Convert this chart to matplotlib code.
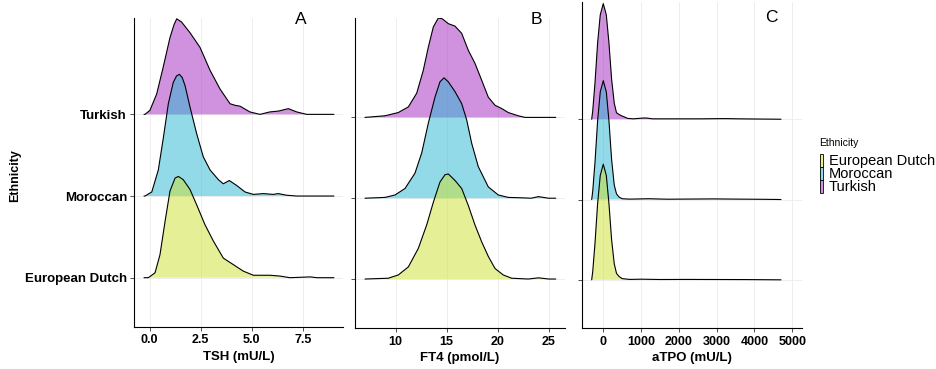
import matplotlib
matplotlib.use("Agg")
import matplotlib.pyplot as plt
from matplotlib.patches import Rectangle
import numpy as np

plt.rcParams['font.family'] = ['Liberation Sans', 'DejaVu Sans']

categories = ["European Dutch", "Moroccan", "Turkish"]
colors = {"European Dutch": "#CDE12D", "Moroccan": "#27B7D3", "Turkish": "#A325C1"}
legend_title = "Ethnicity"

# ---- TSH (mU/L): x positions and ridge heights (row units)
tsh_turkish_x = [-0.27, -0.22, 0.02, 0.35, 0.67, 1.0, 1.2, 1.33, 1.57, 1.98, 2.47, 2.96, 3.45, 3.94, 4.2, 4.43,
                 4.91, 5.40, 5.89, 6.30, 6.79, 7.2, 7.69, 9.02]
tsh_turkish_h = [0, 0, 0.05, 0.25, 0.58, 0.94, 1.10, 1.17, 1.13, 1.0, 0.82, 0.54, 0.31, 0.13, 0.11, 0.10,
                 0.03, 0.0, 0.03, 0.04, 0.07, 0.03, 0.0, 0]
tsh_moroccan_x = [-0.27, -0.22, 0.11, 0.43, 0.68, 0.92, 1.16, 1.32, 1.46, 1.60, 1.74, 1.98, 2.31, 2.63, 2.96, 3.37,
                  3.61, 3.90, 4.26, 4.67, 5.08, 5.57, 6.05, 6.30, 6.7, 7.2, 9.02]
tsh_moroccan_h = [0, 0, 0.05, 0.32, 0.72, 1.13, 1.39, 1.47, 1.49, 1.45, 1.35, 1.09, 0.76, 0.48, 0.32, 0.2,
                  0.15, 0.19, 0.13, 0.05, 0.02, 0.03, 0.02, 0.03, 0.01, 0.0, 0]
tsh_dutch_x = [-0.27, -0.06, 0.27, 0.51, 0.76, 1.0, 1.25, 1.41, 1.65, 1.98, 2.31, 2.71, 3.12, 3.61,
               4.10, 4.59, 5.08, 5.89, 6.38, 6.87, 7.85, 8.2, 9.02]
tsh_dutch_h = [0, 0, 0.06, 0.28, 0.69, 1.06, 1.22, 1.24, 1.2, 1.08, 0.89, 0.65, 0.45, 0.24,
               0.16, 0.08, 0.03, 0.03, 0.02, 0.0, 0.01, 0, 0]

# ---- FT4 (pmol/L)
ft4_turkish_x = [6.99, 8.95, 10.25, 11.24, 12.06, 12.7, 13.2, 13.69, 14.18, 14.57, 15.16, 15.81, 16.47,
                 17.12, 17.77, 18.43, 19.08, 19.74, 20.39, 21.04, 22.02, 22.68, 25.69]
ft4_turkish_h = [0, 0.02, 0.06, 0.13, 0.30, 0.58, 0.87, 1.12, 1.23, 1.22, 1.16, 1.13, 1.04,
                 0.83, 0.67, 0.46, 0.25, 0.15, 0.11, 0.06, 0.02, 0, 0]
ft4_moroccan_x = [6.99, 8.95, 9.93, 10.91, 11.89, 12.55, 13.2, 13.85, 14.34, 14.74, 15.16, 15.81, 16.47,
                  16.96, 17.45, 18.1, 19.08, 20.06, 21.04, 22.35, 23.3, 24.0, 24.98, 25.69]
ft4_moroccan_h = [0, 0.01, 0.04, 0.12, 0.31, 0.56, 0.93, 1.25, 1.44, 1.49, 1.44, 1.32, 1.17,
                  0.97, 0.68, 0.39, 0.14, 0.04, 0.01, 0.005, 0.0, 0.02, 0, 0]
ft4_dutch_x = [6.99, 9.27, 10.25, 11.24, 12.22, 13.04, 13.69, 14.34, 14.83, 15.16, 15.81, 16.47, 17.12,
               17.77, 18.43, 19.08, 19.74, 20.55, 21.37, 23.0, 24.0, 25.0, 25.69]
ft4_dutch_h = [0, 0.01, 0.05, 0.15, 0.38, 0.67, 0.95, 1.2, 1.29, 1.30, 1.22, 1.12, 0.91,
               0.67, 0.46, 0.28, 0.13, 0.05, 0.01, 0, 0.015, 0, 0]

# ---- aTPO (mU/L)
atpo_turkish_x = [-307, -280, -220, -150, -80, 0, 80, 150, 220, 290, 350, 450, 550, 650, 800, 1050,
                  1150, 1300, 2000, 2600, 3200, 3600, 4000, 4701]
atpo_turkish_h = [0, 0.1, 0.45, 0.95, 1.3, 1.44, 1.3, 0.95, 0.5, 0.2, 0.08, 0.05, 0.03, 0.01, 0.005,
                  0.015, 0.015, 0.005, 0.005, 0.005, 0.008, 0.005, 0.003, 0]
atpo_moroccan_x = [-307, -280, -220, -150, -80, 0, 80, 150, 220, 290, 350, 420, 500, 700, 1200, 1700,
                   2300, 2900, 3600, 4200, 4701]
atpo_moroccan_h = [0, 0.1, 0.46, 0.98, 1.34, 1.48, 1.34, 0.98, 0.5, 0.18, 0.07, 0.03, 0.01, 0.005, 0.01,
                   0.004, 0.006, 0.008, 0.005, 0.003, 0]
atpo_dutch_x = [-307, -280, -220, -150, -80, 0, 80, 150, 220, 290, 350, 420, 500, 700, 1000, 1500,
                2200, 3000, 3800, 4701]
atpo_dutch_h = [0, 0.1, 0.45, 0.95, 1.3, 1.44, 1.3, 0.95, 0.5, 0.2, 0.08, 0.04, 0.015, 0.005, 0.008,
                0.004, 0.005, 0.004, 0.003, 0]

panels = [
    dict(label="A", xlabel="TSH (mU/L)",
         series={"Turkish": (tsh_turkish_x, tsh_turkish_h), "Moroccan": (tsh_moroccan_x, tsh_moroccan_h),
                 "European Dutch": (tsh_dutch_x, tsh_dutch_h)},
         xticks=[0, 2.5, 5, 7.5], xticklabels=["0.0", "2.5", "5.0", "7.5"], xlim=(-0.76, 9.48),
         box=(134, 343.3, 18, 326.7), ylim=(0.40, 4.18), letter_px=(301, 19), show_y=True),
    dict(label="B", xlabel="FT4 (pmol/L)",
         series={"Turkish": (ft4_turkish_x, ft4_turkish_h), "Moroccan": (ft4_moroccan_x, ft4_moroccan_h),
                 "European Dutch": (ft4_dutch_x, ft4_dutch_h)},
         xticks=[10, 15, 20, 25], xticklabels=["10", "15", "20", "25"], xlim=(5.98, 26.6),
         box=(354.7, 565, 18, 328), ylim=(0.394, 4.23), letter_px=(536, 19), show_y=False),
    dict(label="C", xlabel="aTPO (mU/L)",
         series={"Turkish": (atpo_turkish_x, atpo_turkish_h), "Moroccan": (atpo_moroccan_x, atpo_moroccan_h),
                 "European Dutch": (atpo_dutch_x, atpo_dutch_h)},
         xticks=[0, 1000, 2000, 3000, 4000, 5000],
         xticklabels=["0", "1000", "2000", "3000", "4000", "5000"], xlim=(-571, 5249),
         box=(581.7, 801.7, 2, 328), ylim=(0.40, 4.46), letter_px=(771, 18), show_y=False),
]

W, H = 937, 369
fig = plt.figure(figsize=(W / 100, H / 100), dpi=100)
fig.patch.set_facecolor("white")

alpha = 0.5
draw_order = ["Turkish", "Moroccan", "European Dutch"]
ypos = {c: i + 1 for i, c in enumerate(categories)}

for p in panels:
    l, r, t, b = p["box"]
    ax = fig.add_axes([l / W, 1 - b / H, (r - l) / W, (b - t) / H])
    ax.set_xlim(*p["xlim"])
    ax.set_ylim(*p["ylim"])
    for k, cat in enumerate(draw_order):
        xs, hs = p["series"][cat]
        xs = np.asarray(xs, float)
        hs = np.asarray(hs, float)
        y0 = ypos[cat]
        z = 3 + k * 2
        ax.fill_between(xs, y0, y0 + hs, facecolor=colors[cat], alpha=alpha, lw=0, zorder=z)
        ax.plot(xs, y0 + hs, color="black", lw=0.8, zorder=z + 1, solid_joinstyle="round",
                solid_capstyle="round")
    ax.set_xticks(p["xticks"])
    ax.set_xticklabels(p["xticklabels"], fontsize=9, fontweight="bold")
    ax.set_yticks([ypos[c] for c in categories])
    if p["show_y"]:
        ax.set_yticklabels(categories, fontsize=9.5, fontweight="bold")
    else:
        ax.set_yticklabels([])
    ax.grid(True, color="#EBEBEB", lw=0.6, zorder=0)
    ax.set_axisbelow(True)
    for s in ["top", "right"]:
        ax.spines[s].set_visible(False)
    for s in ["left", "bottom"]:
        ax.spines[s].set_color("black")
        ax.spines[s].set_linewidth(0.8)
    ax.tick_params(axis="both", length=3, width=0.6, color="#333333", labelcolor="black")
    ax.tick_params(axis="x", pad=2.5)
    ax.tick_params(axis="y", pad=2)
    ax.set_xlabel(p["xlabel"], fontsize=9.5, fontweight="bold", labelpad=3)
    fig.text(p["letter_px"][0] / W, 1 - p["letter_px"][1] / H, p["label"], fontsize=12.5,
             ha="center", va="center")

fig.text(15 / W, 1 - 176 / H, "Ethnicity", rotation=90, fontsize=9, fontweight="bold",
         ha="center", va="center")

# legend
fig.text(819 / W, 1 - 143 / H, legend_title, fontsize=7.5, ha="left", va="center")
key_top = 154.0
key_h = 12.9
for i, cat in enumerate(categories):
    yt = key_top + i * key_h
    fig.patches.append(Rectangle((820 / W, 1 - (yt + key_h) / H), 3.5 / W, key_h / H,
                                 transform=fig.transFigure, facecolor=colors[cat], alpha=alpha,
                                 edgecolor="none"))
    fig.patches.append(Rectangle((820 / W, 1 - (yt + key_h) / H), 3.5 / W, key_h / H,
                                 transform=fig.transFigure, facecolor="none",
                                 edgecolor="black", lw=0.6))
    fig.text(829 / W, 1 - (yt + key_h / 2 + 0.5) / H, cat, fontsize=10.5, ha="left", va="center")

fig.savefig("out.png", dpi=100)
